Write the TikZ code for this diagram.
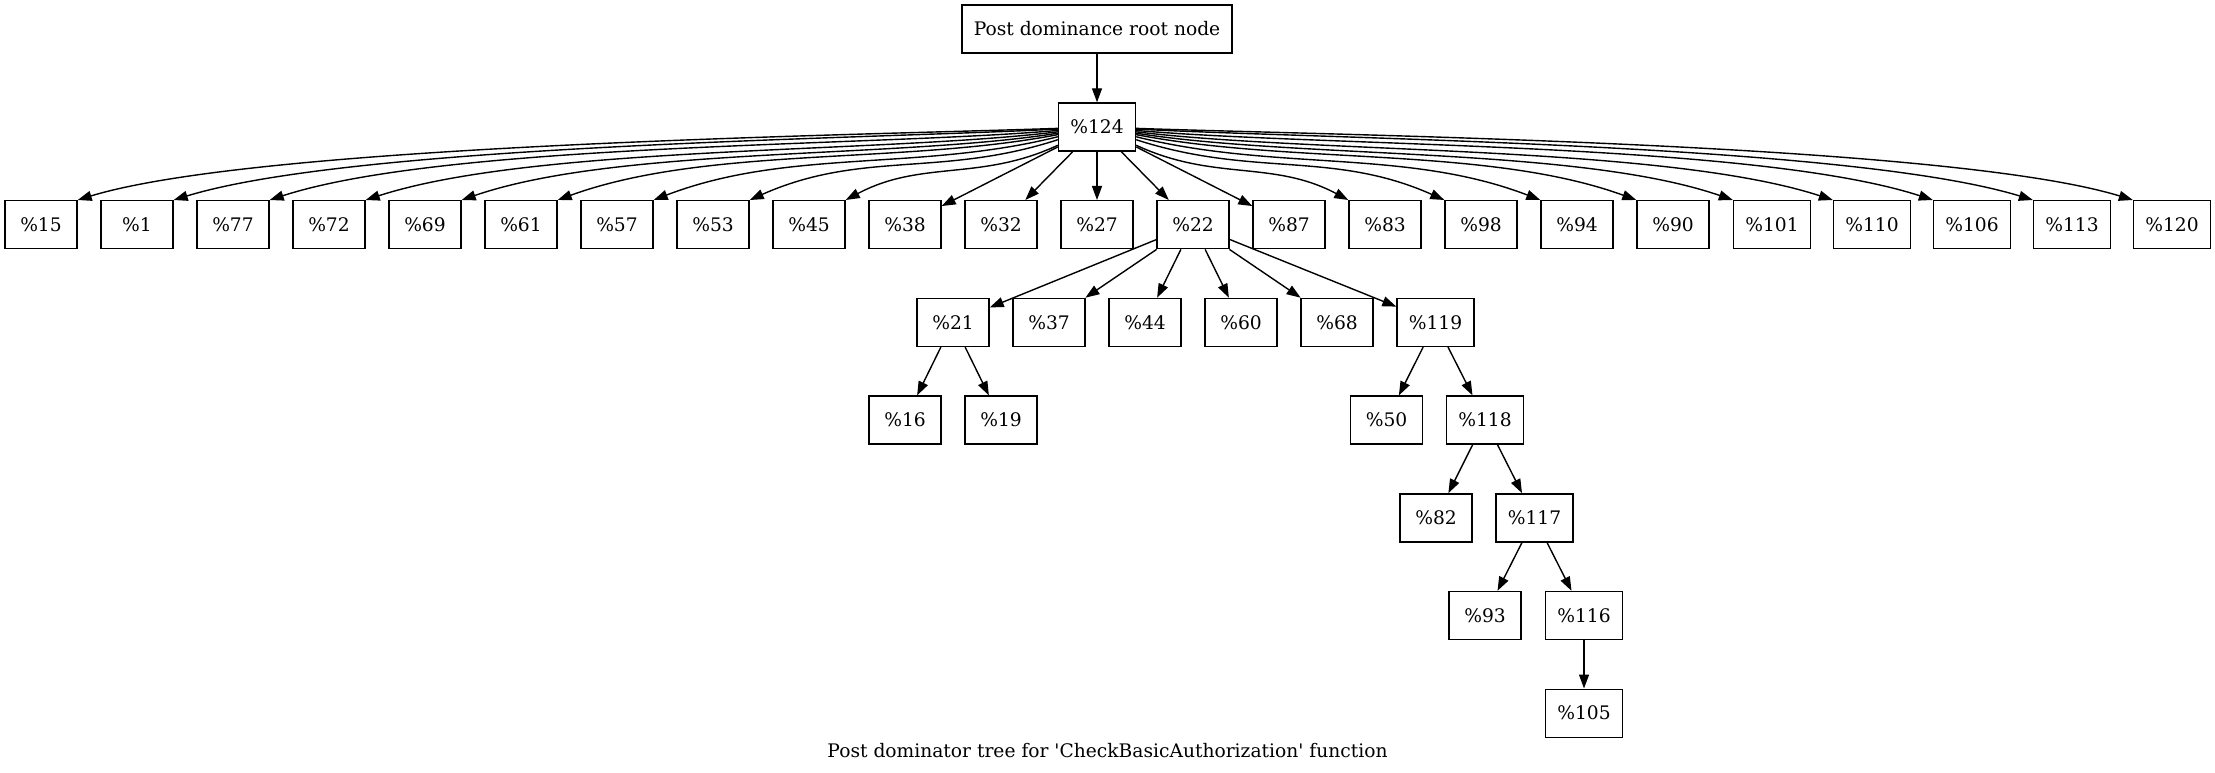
\documentclass[tikz,border=0pt]{standalone}
\usepackage{fontspec}
\setmainfont{DejaVu Serif}
\usetikzlibrary{arrows.meta}

\begin{document}
\begin{tikzpicture}[x=0.5pt, y=0.5pt,
    box/.style={draw, line width=0.7pt, minimum width=36pt, minimum height=24pt, inner xsep=5.9pt, inner ysep=0pt},
    edge/.style={-{Triangle[length=7pt, width=5pt]}, line width=0.7pt}]

  \fontsize{9.33}{11}\selectfont

  \newcommand\colw{96}
  \newcommand\rowh{97.7}

  \useasboundingbox (0,0) rectangle (2215,772);

  \node[box, minimum width=134.5pt] (root) at (1097, 743) {Post dominance root node};
  \node[box] (n124) at (1097, 645) {\%124};

  % first row
  \node[box] (n15) at (41+0*\colw, 645-\rowh) {\%15};
  \node[box] (n1)  at (41+1*\colw, 645-\rowh) {\%1};
  \node[box] (n77) at (41+2*\colw, 645-\rowh) {\%77};
  \node[box] (n72) at (41+3*\colw, 645-\rowh) {\%72};
  \node[box] (n69) at (41+4*\colw, 645-\rowh) {\%69};
  \node[box] (n61) at (41+5*\colw, 645-\rowh) {\%61};
  \node[box] (n57) at (41+6*\colw, 645-\rowh) {\%57};
  \node[box] (n53) at (41+7*\colw, 645-\rowh) {\%53};
  \node[box] (n45) at (41+8*\colw, 645-\rowh) {\%45};
  \node[box] (n38) at (41+9*\colw, 645-\rowh) {\%38};
  \node[box] (n32) at (41+10*\colw, 645-\rowh) {\%32};
  \node[box] (n27) at (41+11*\colw, 645-\rowh) {\%27};
  \node[box] (n22) at (41+12*\colw, 645-\rowh) {\%22};
  \node[box] (n87) at (41+13*\colw, 645-\rowh) {\%87};
  \node[box] (n83) at (41+14*\colw, 645-\rowh) {\%83};
  \node[box] (n98) at (41+15*\colw, 645-\rowh) {\%98};
  \node[box] (n94) at (41+16*\colw, 645-\rowh) {\%94};
  \node[box] (n90) at (41+17*\colw, 645-\rowh) {\%90};
  \node[box] (n101) at (1772+0*100, 645-\rowh) {\%101};
  \node[box] (n110) at (1772+1*100, 645-\rowh) {\%110};
  \node[box] (n106) at (1772+2*100, 645-\rowh) {\%106};
  \node[box] (n113) at (1772+3*100, 645-\rowh) {\%113};
  \node[box] (n120) at (1772+4*100, 645-\rowh) {\%120};

  % below %22
  \node[box] (n21) at (41+9.5*\colw, 645-2*\rowh) {\%21};
  \node[box] (n37) at (41+10.5*\colw, 645-2*\rowh) {\%37};
  \node[box] (n44) at (41+11.5*\colw, 645-2*\rowh) {\%44};
  \node[box] (n60) at (41+12.5*\colw, 645-2*\rowh) {\%60};
  \node[box] (n68) at (41+13.5*\colw, 645-2*\rowh) {\%68};
  \node[box] (n119) at (1435.5, 645-2*\rowh) {\%119};

  \node[box] (n16) at (41+9*\colw, 645-3*\rowh) {\%16};
  \node[box] (n19) at (41+10*\colw, 645-3*\rowh) {\%19};
  \node[box] (n50) at (1386.5, 645-3*\rowh) {\%50};
  \node[box] (n118) at (1485, 645-3*\rowh) {\%118};

  \node[box] (n82) at (1436, 645-4*\rowh) {\%82};
  \node[box] (n117) at (1534.5, 645-4*\rowh) {\%117};

  \node[box] (n93) at (1485, 645-5*\rowh) {\%93};
  \node[box] (n116) at (1584, 645-5*\rowh) {\%116};

  \node[box] (n105) at (1584, 645-6*\rowh) {\%105};

  \node[anchor=base] (caption) at (1107.5, 15) {Post dominator tree for \textquotesingle CheckBasicAuthorization\textquotesingle{} function};

  \draw[edge] (root) -- (n124);

  %% %124 -> left part of first row
  \draw[edge] (n124) to[out=182, in=17, looseness=0.5] (n15.north east);
  \draw[edge] (n124) to[out=183, in=17, looseness=0.55] (n1.north east);
  \draw[edge] (n124) to[out=185, in=18, looseness=0.6] (n77.north east);
  \draw[edge] (n124) to[out=187, in=18, looseness=0.65] (n72.north east);
  \draw[edge] (n124) to[out=189, in=19, looseness=0.7] (n69.north east);
  \draw[edge] (n124) to[out=191, in=20, looseness=0.8] (n61.north east);
  \draw[edge] (n124) to[out=194, in=21, looseness=0.9] (n57.north east);
  \draw[edge] (n124) to[out=198, in=24] (n53.north east);
  \draw[edge] (n124) to[out=205, in=28] (n45.north east);
  \draw[edge] (n124) -- (n38);
  \draw[edge] (n124) -- (n32);
  \draw[edge] (n124) -- (n27);
  \draw[edge] (n124) -- (n22);
  %% %124 -> right part of first row
  \draw[edge] (n124) -- (n87);
  \draw[edge] (n124) to[out=-25, in=152] (n83.north west);
  \draw[edge] (n124) to[out=-18, in=156] (n98.north west);
  \draw[edge] (n124) to[out=-14, in=159, looseness=0.9] (n94.north west);
  \draw[edge] (n124) to[out=-11, in=160, looseness=0.8] (n90.north west);
  \draw[edge] (n124) to[out=-9, in=161, looseness=0.7] (n101.north west);
  \draw[edge] (n124) to[out=-7, in=162, looseness=0.65] (n110.north west);
  \draw[edge] (n124) to[out=-5, in=162, looseness=0.6] (n106.north west);
  \draw[edge] (n124) to[out=-3, in=163, looseness=0.55] (n113.north west);
  \draw[edge] (n124) to[out=-2, in=163, looseness=0.5] (n120.north west);

  %% %22 subtree
  \draw[edge] (n22) -- (n21);
  \draw[edge] (n22) -- (n37);
  \draw[edge] (n22) -- (n44);
  \draw[edge] (n22) -- (n60);
  \draw[edge] (n22) -- (n68);
  \draw[edge] (n22) -- (n119);
  \draw[edge] (n21) -- (n16);
  \draw[edge] (n21) -- (n19);
  \draw[edge] (n119) -- (n50);
  \draw[edge] (n119) -- (n118);
  \draw[edge] (n118) -- (n82);
  \draw[edge] (n118) -- (n117);
  \draw[edge] (n117) -- (n93);
  \draw[edge] (n117) -- (n116);
  \draw[edge] (n116) -- (n105);
\end{tikzpicture}
\end{document}
